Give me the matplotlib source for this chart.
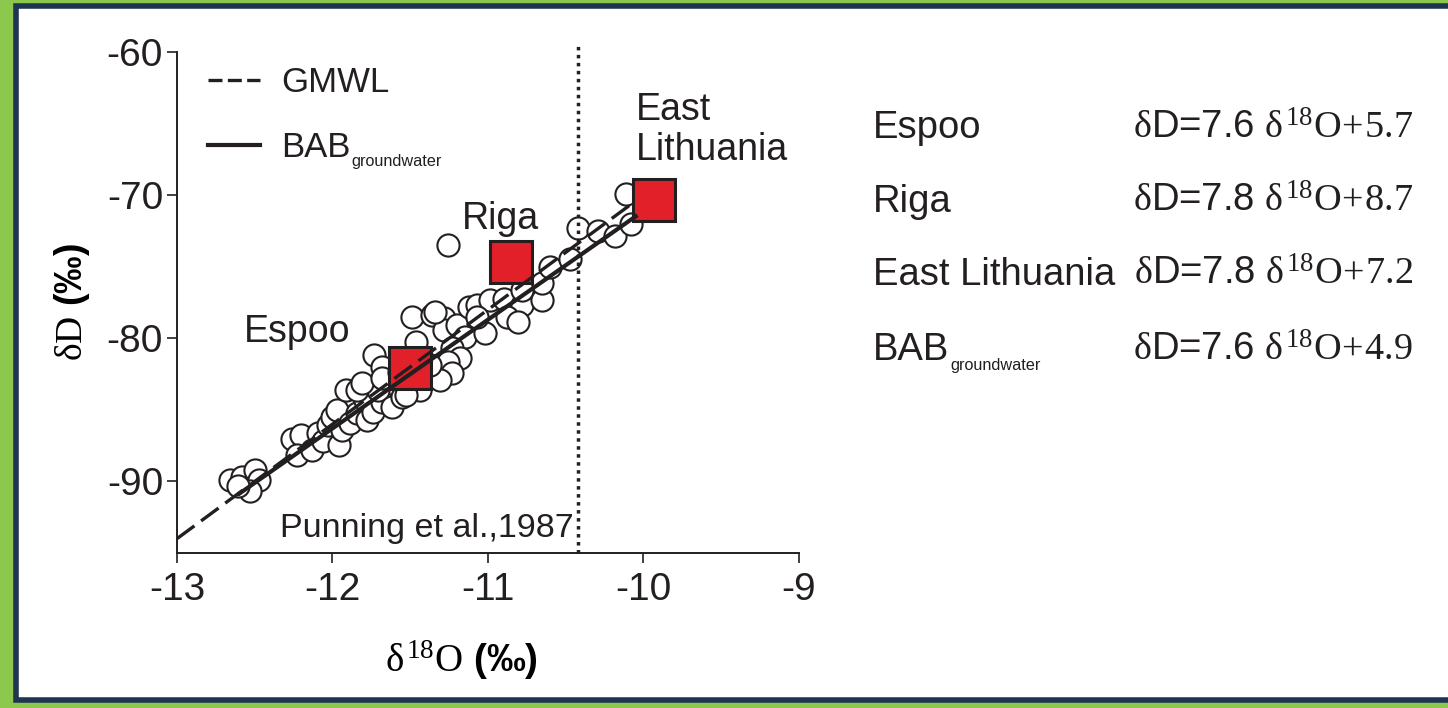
import matplotlib.pyplot as plt
import matplotlib.patches as patches
from matplotlib.lines import Line2D
import numpy as np

# groundwater samples (open circles)
d18o = [-12.66, -12.58, -12.50, -12.47, -12.53, -12.61, -12.26, -12.20, -12.23, -12.13,
        -12.09, -12.06, -12.03, -12.00, -11.96, -11.97, -11.94, -11.89, -11.91, -11.84,
        -11.78, -11.79, -11.74, -11.68, -11.71, -11.84, -11.62, -11.55, -11.81, -11.73,
        -11.49, -11.36, -11.28, -11.28, -11.46, -11.20, -11.15, -11.23, -11.18, -11.26,
        -11.23, -11.31, -11.44, -11.53, -11.68, -11.68, -11.34, -11.12, -11.02, -11.57,
        -11.47, -11.37, -11.07, -10.99, -10.90, -10.84, -10.78, -10.65, -10.88, -10.81,
        -11.07, -10.65, -10.60, -10.47, -10.42, -10.29, -10.18, -10.08, -10.11, -11.26,
        -10.78]
dD = [-89.87, -89.66, -89.17, -89.87, -90.70, -90.35, -87.07, -86.73, -88.12, -87.77,
      -86.59, -87.21, -86.03, -85.47, -87.42, -84.98, -86.38, -85.89, -83.59, -85.19,
      -85.68, -84.28, -85.12, -84.42, -83.59, -83.59, -84.77, -84.07, -83.10, -81.14,
      -78.49, -78.35, -78.56, -79.40, -80.24, -79.05, -79.89, -80.65, -81.35, -81.63,
      -82.40, -82.89, -83.59, -83.93, -81.98, -82.75, -78.14, -77.79, -79.61, -82.33,
      -81.49, -81.84, -77.65, -77.31, -77.24, -78.56, -77.65, -77.31, -78.49, -78.84,
      -78.49, -76.12, -75.00, -74.44, -72.28, -72.49, -72.84, -72.00, -69.91, -73.47,
      -76.60]

# site means (red squares)
site_names = ["Espoo", "Riga", "East\nLithuania"]
site_d18o = [-11.50, -10.85, -9.93]
site_dD = [-82.05, -74.65, -70.33]

# lines: GMWL dD = 8 d18O + 10, BAB dD = 7.6 d18O + 4.9
gmwl_x = np.array([-13.0, -10.05])
bab_x = np.array([-12.6, -10.05])
punning_x = -10.42

# regression table on the right
eq_sites = ["Espoo", "Riga", "East Lithuania", "BAB"]
eq_slope = ["7.6", "7.8", "7.8", "7.6"]
eq_icpt = ["5.7", "8.7", "7.2", "4.9"]

ink = '#231f20'
plt.rcParams['font.family'] = ['Liberation Sans', 'DejaVu Sans']
plt.rcParams['axes.unicode_minus'] = False
plt.rcParams['mathtext.fontset'] = 'custom'
plt.rcParams['mathtext.rm'] = 'Liberation Serif'
plt.rcParams['mathtext.it'] = 'Liberation Serif'
plt.rcParams['mathtext.bf'] = 'Liberation Serif:bold'
plt.rcParams['mathtext.sf'] = 'Liberation Sans'
plt.rcParams['text.color'] = ink

fig = plt.figure(figsize=(14.48, 7.08), dpi=100, facecolor='#8cc84b')
# white panel with navy frame
fig.patches.append(patches.Rectangle((15.5 / 1448, 8 / 708), 1.1, 1 - 13.5 / 708,
                                     transform=fig.transFigure, facecolor='white',
                                     edgecolor='#1f3552', linewidth=4, zorder=-1))

ax = fig.add_axes([0.1222, 0.2189, 0.4296, 0.7077])
ax.set_facecolor('none')
ax.set_xlim(-13, -9)
ax.set_ylim(-95, -60)
ax.set_xticks([-13, -12, -11, -10, -9])
ax.set_yticks([-90, -80, -70, -60])
for s in ['top', 'right']:
    ax.spines[s].set_visible(False)
for s in ['left', 'bottom']:
    ax.spines[s].set_linewidth(1.4)
    ax.spines[s].set_color(ink)
ax.tick_params(direction='out', length=7, width=1.2, color=ink, labelsize=28, labelcolor=ink)
ax.tick_params(axis='y', pad=3)
ax.tick_params(axis='x', pad=7)

ax.scatter(d18o, dD, s=255, facecolor='white', edgecolor=ink, linewidth=1.5, zorder=2)
ax.plot(site_d18o, site_dD, 's', markersize=30, markerfacecolor='#e2202a',
        markeredgecolor=ink, markeredgewidth=2.2, zorder=3)

ax.plot(gmwl_x, 8 * gmwl_x + 10, color=ink, lw=2.4, dashes=(6.5, 2.5), zorder=4)
ax.plot(bab_x, 7.6 * bab_x + 4.9, color=ink, lw=3, zorder=4)
ax.plot([punning_x, punning_x], [-95, -59.4], color=ink, lw=2.5, ls=(0, (1, 1.3)),
        clip_on=False, zorder=4)
ax.text(-10.45, -93.3, "Punning et al.,1987", fontsize=24.5, ha='right', va='center')

ax.text(site_d18o[0] - 0.73, site_dD[0] + 1.8, site_names[0], fontsize=27, ha='center', va='baseline')
ax.text(site_d18o[1] - 0.07, site_dD[1] + 2.3, site_names[1], fontsize=27, ha='center', va='baseline')
ax.text(-10.05, -62.8, site_names[2], fontsize=27, ha='left', va='top', linespacing=1.15)

ax.set_xlabel(r"$\delta^{18}\mathrm{O}$ (‰)", fontsize=28, fontweight='bold')
ax.xaxis.set_label_coords(0.458, -0.17)
ax.set_ylabel(r"$\delta\mathrm{D}$ (‰)", fontsize=27, fontweight='bold')
ax.yaxis.set_label_coords(-0.137, 0.5)

handles = [Line2D([], [], color=ink, lw=2.4, dashes=(4.2, 1.6)),
           Line2D([], [], color=ink, lw=3)]
leg = ax.legend(handles, ["GMWL", "BAB"], loc='upper left', bbox_to_anchor=(0.05, 0.972),
                frameon=False, fontsize=25, handlelength=1.5, handletextpad=0.6,
                labelspacing=0.92, borderpad=0, borderaxespad=0)
ax.annotate("groundwater", xy=(1, 0), xycoords=leg.get_texts()[1], xytext=(0.5, -1.5),
            textcoords='offset points', fontsize=11.7, va='baseline', ha='left',
            zorder=10, annotation_clip=False)

# equation table
rows_y = [0.805, 0.7006, 0.5975, 0.4915]
for name, k, b, y in zip(eq_sites, eq_slope, eq_icpt, rows_y):
    t = fig.text(0.603, y, name, fontsize=27.5, ha='left', va='baseline')
    if name == "BAB":
        ax.annotate("groundwater", xy=(1, 0), xycoords=t, xytext=(0.5, -1.5),
                    textcoords='offset points', fontsize=11.7, va='baseline', ha='left',
                    annotation_clip=False)
    fig.text(0.9758, y, r"$\delta$D=" + k + r" $\delta^{\mathrm{18}}\mathrm{O}\!+\!\mathrm{" + b + "}$",
             fontsize=27.5, ha='right', va='baseline')

fig.savefig('out.png', dpi=100, facecolor=fig.get_facecolor())
